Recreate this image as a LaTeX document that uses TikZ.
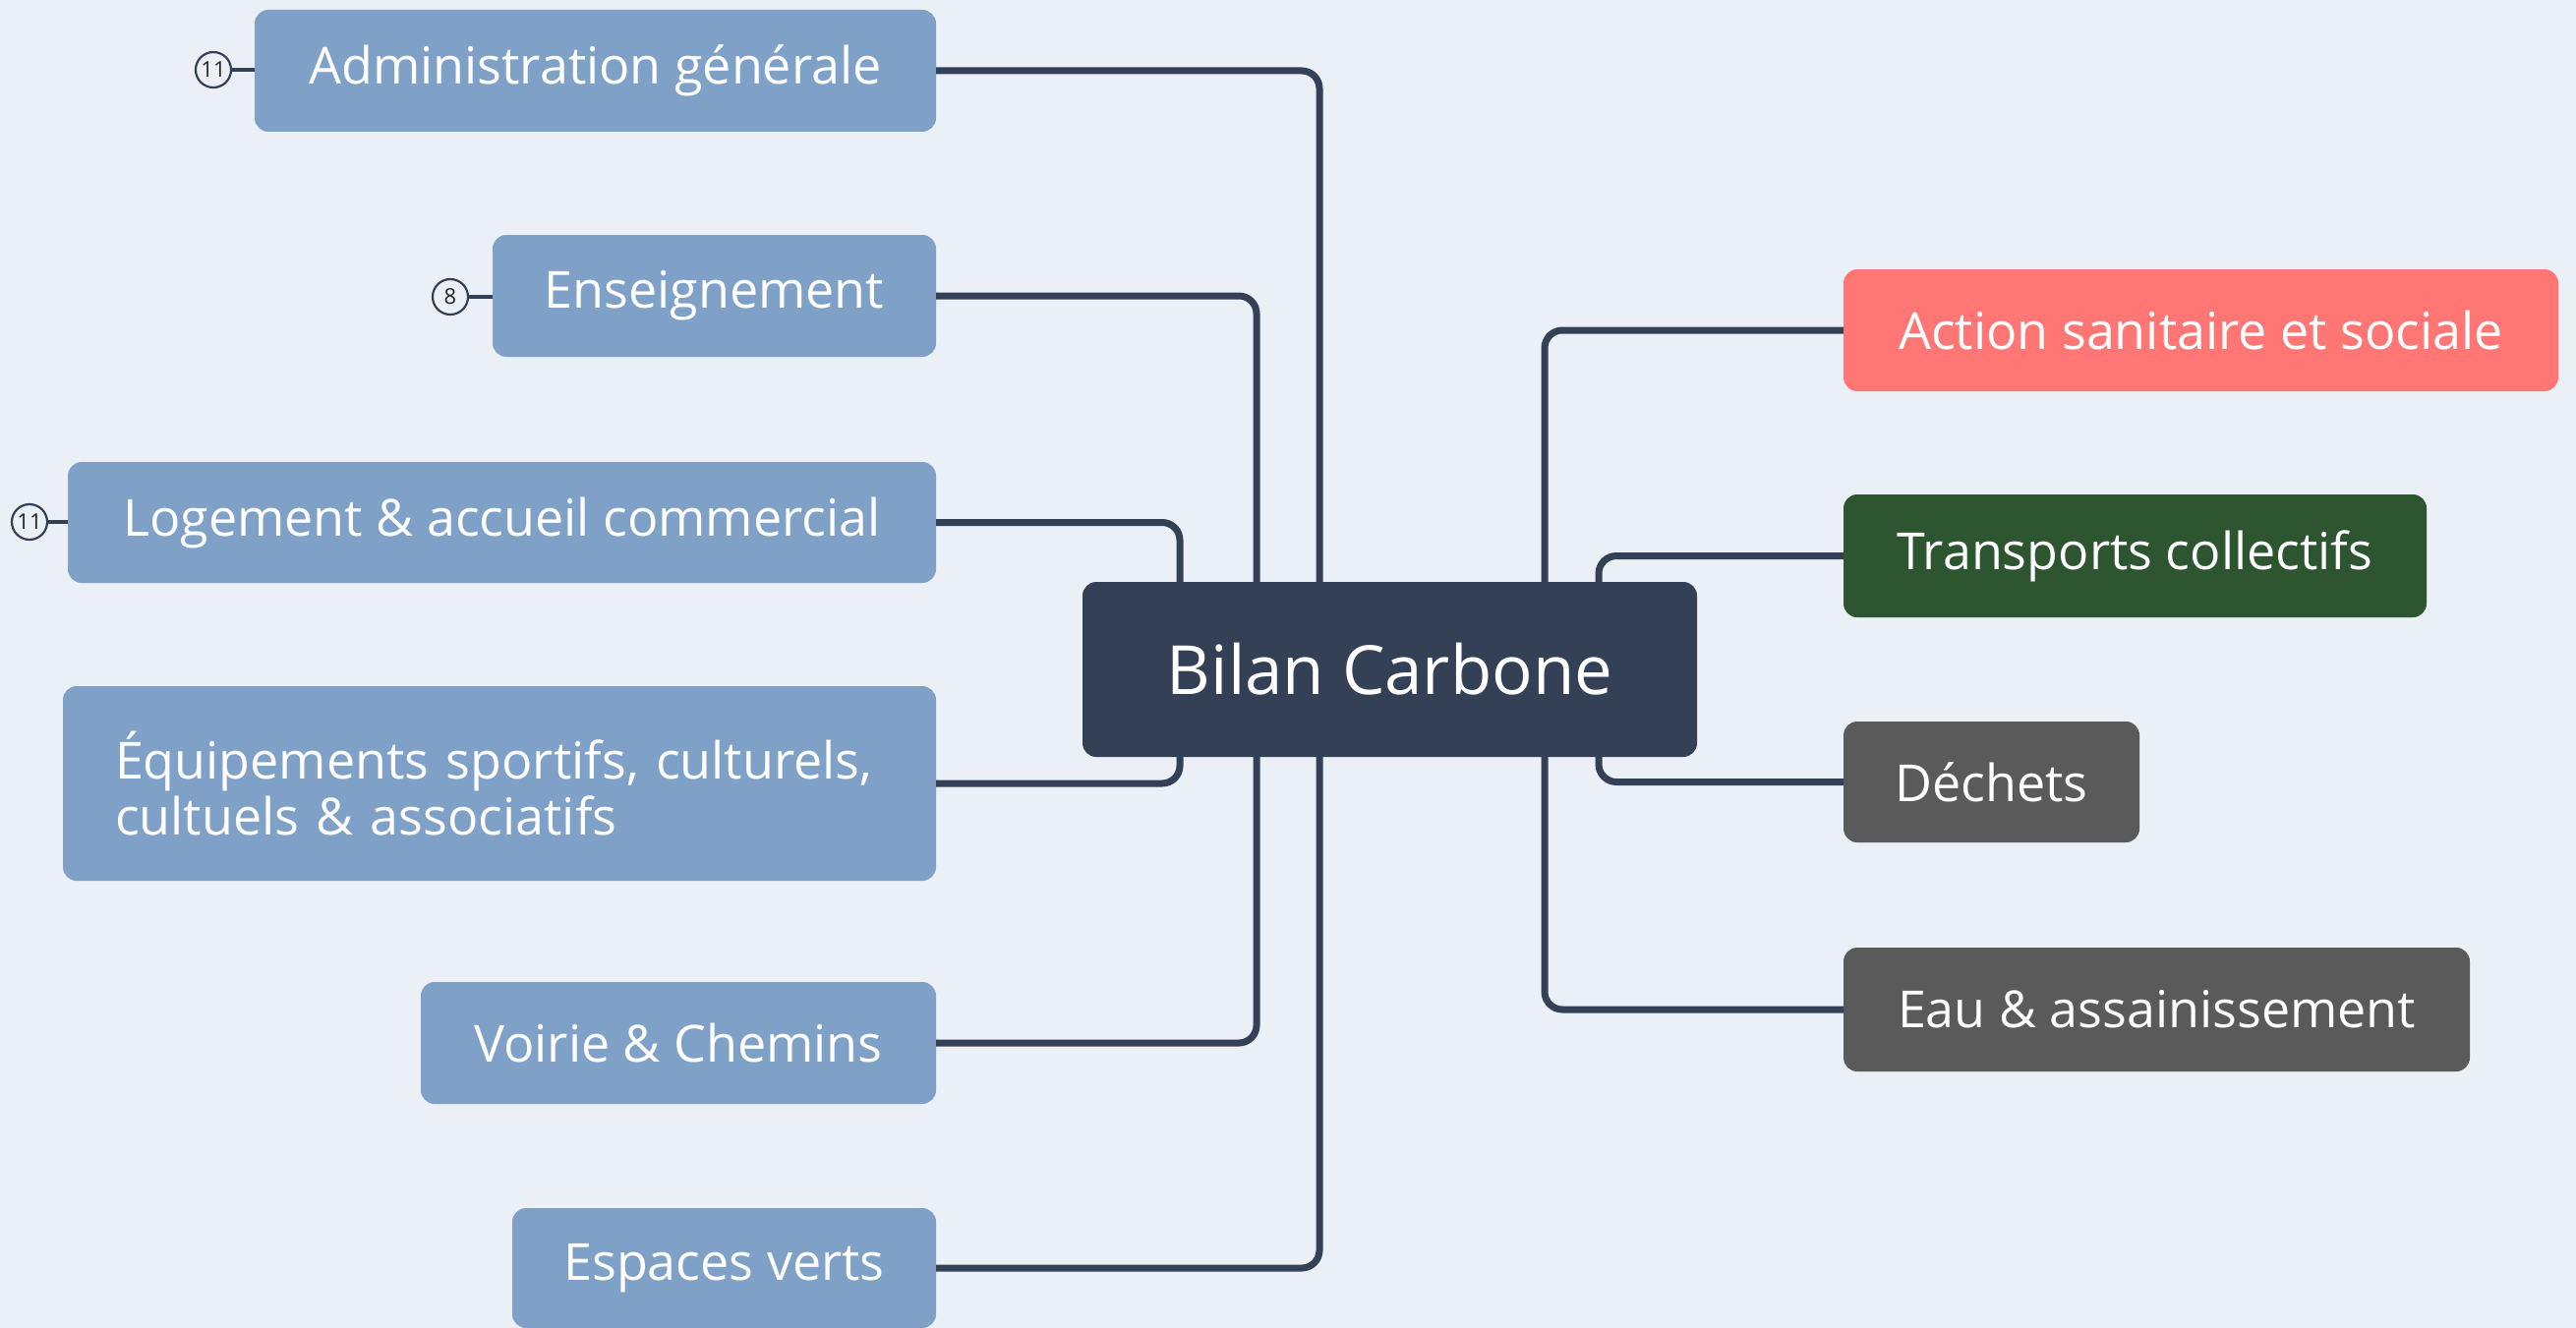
\documentclass[tikz,border=0pt]{standalone}
\usepackage{fontspec}
\setmainfont{Open Sans}
\usetikzlibrary{calc}
\definecolor{bgc}{HTML}{EBF0F7}
\definecolor{leftc}{HTML}{7FA1C7}
\definecolor{navy}{HTML}{344055}
\definecolor{redc}{HTML}{FF7675}
\definecolor{greenc}{HTML}{2C5530}
\definecolor{greyc}{HTML}{5A5A5A}
\tikzset{
  box/.style={rounded corners=14pt, inner sep=0pt, text=white,
    font=\fontsize{52}{57}\selectfont, anchor=center},
  lbox/.style={box, fill=leftc},
  conn/.style={draw=navy, line width=7pt, rounded corners=18pt},
  badge/.style={circle, draw=navy, line width=2.2pt, minimum size=36pt, inner sep=0pt,
    font=\fontsize{22}{22}\selectfont, text=black!85},
  blink/.style={draw=navy, line width=4pt}
}
\begin{document}
\begin{tikzpicture}[x=1pt,y=-1pt]
\fill[bgc] (0,0) rectangle (2620,1351);
\useasboundingbox (0,0) rectangle (2620,1351);
% connectors
\coordinate (cc) at (1413.5,681);
% central
\node[box, fill=navy, minimum width=625pt, minimum height=178pt,
  font=\fontsize{69}{75}\selectfont] (c) at (cc) {Bilan Carbone};
% left nodes
\node[lbox, minimum width=693pt, minimum height=124pt] (adm) at (605.5,72) {Administration générale};
\node[lbox, minimum width=451pt, minimum height=124pt] (ens) at (726.5,301) {Enseignement};
\node[lbox, minimum width=883pt, minimum height=123pt] (log) at (510.5,531.5) {Logement \& accueil commercial};
\node[lbox, minimum width=888pt, minimum height=198pt, text width=782pt, align=left, inner xsep=53pt] (equ) at (508,797) {Équipements sportifs, culturels,\\cultuels \& associatifs};
\node[lbox, minimum width=524pt, minimum height=124pt] (voi) at (690,1061) {Voirie \& Chemins};
\node[lbox, minimum width=431pt, minimum height=122pt] (esp) at (736.5,1290) {Espaces verts};
% right nodes
\node[box, fill=redc, minimum width=727pt, minimum height=124pt] (act) at (2238.5,336) {Action sanitaire et sociale};
\node[box, fill=greenc, minimum width=593pt, minimum height=125pt] (tra) at (2171.5,565.5) {Transports collectifs};
\node[box, fill=greyc, minimum width=301pt, minimum height=123pt] (dec) at (2025.5,795.5) {Déchets};
\node[box, fill=greyc, minimum width=637pt, minimum height=126pt] (eau) at (2193.5,1027) {Eau \& assainissement};
% connectors
\draw[conn] (adm.east) -| ($(c.north)+(-71.5,0)$);
\draw[conn] (ens.east) -| ($(c.north)+(-135.5,0)$);
\draw[conn] (log.east) -| ($(c.north)+(-213.5,0)$);
\draw[conn] (equ.east) -| ($(c.south)+(-213.5,0)$);
\draw[conn] (voi.east) -| ($(c.south)+(-135.5,0)$);
\draw[conn] (esp.east) -| ($(c.south)+(-71.5,0)$);
\draw[conn] (act.west) -| ($(c.north)+(157.5,0)$);
\draw[conn] (tra.west) -| ($(c.north)+(212.5,0)$);
\draw[conn] (dec.west) -| ($(c.south)+(212.5,0)$);
\draw[conn] (eau.west) -| ($(c.south)+(157.5,0)$);
% badges
\node[badge] (b1) at (217,71) {11};
\node[badge] (b2) at (458,302) {8};
\node[badge] (b3) at (30,531) {11};
\draw[blink] (b1.east) -- (b1.east -| adm.west);
\draw[blink] (b2.east) -- (b2.east -| ens.west);
\draw[blink] (b3.east) -- (b3.east -| log.west);
\end{tikzpicture}
\end{document}
